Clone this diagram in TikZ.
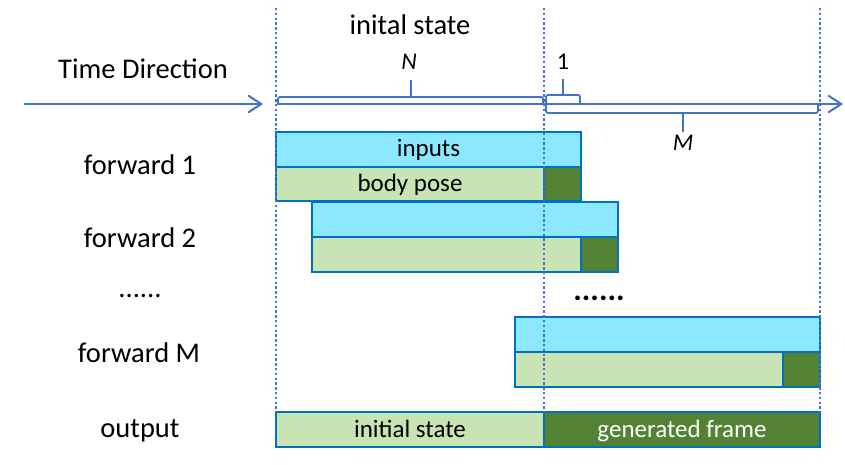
\documentclass[tikz,border=0pt]{standalone}
\usepackage{fontspec}
\setmainfont{Carlito}
\usetikzlibrary{arrows.meta}
\definecolor{axisblue}{HTML}{4472C4}
\definecolor{boxblue}{HTML}{0070C0}
\definecolor{inblue}{HTML}{8BE8FF}
\definecolor{lgreen}{HTML}{C9E4B4}
\definecolor{dgreen}{HTML}{548235}
\begin{document}
\begin{tikzpicture}[x=1pt,y=-1pt,
  cell/.style={draw=boxblue, line width=2.4pt, inner sep=0pt, outer sep=0pt, anchor=north west,
    text height=18pt, text depth=3pt, font=\fontsize{25}{29}\selectfont},
  lab/.style={font=\fontsize{28.5}{33}\selectfont, anchor=base, inner sep=0pt},
  smalllab/.style={font=\fontsize{24}{28}\selectfont, anchor=base, inner sep=0pt},
  guide/.style={draw=axisblue, line width=2.4pt, dash pattern=on 2.4pt off 2.4pt},
  axisline/.style={draw=axisblue, line width=2pt, -{Straight Barb[length=13pt,width=17pt,line width=2pt]}},
  bracket/.style={draw=axisblue, line width=1.8pt, rounded corners=2pt},
  ]
\useasboundingbox (0,0) rectangle (845,465);
\fill[white] (0,0) rectangle (845,465);

% forward 1
\node[cell, fill=inblue, minimum width=305pt, minimum height=35pt] (f1in) at (276,132) {inputs};
\node[cell, fill=lgreen, minimum width=268pt, minimum height=34pt] (f1bp) at (276,167) {body pose};
\node[cell, fill=dgreen, minimum width=37pt, minimum height=34pt] (f1g) at (544,167) {};
% forward 2
\node[cell, fill=inblue, minimum width=306pt, minimum height=35pt] (f2in) at (312,202) {};
\node[cell, fill=lgreen, minimum width=269pt, minimum height=35pt] (f2bp) at (312,237) {};
\node[cell, fill=dgreen, minimum width=37pt, minimum height=35pt] (f2g) at (581,237) {};
% forward M
\node[cell, fill=inblue, minimum width=305pt, minimum height=35pt] (fmin) at (515,317) {};
\node[cell, fill=lgreen, minimum width=268pt, minimum height=35pt] (fmbp) at (515,352) {};
\node[cell, fill=dgreen, minimum width=37pt, minimum height=35pt] (fmg) at (783,352) {};
% output
\node[cell, fill=lgreen, minimum width=268pt, minimum height=35pt] (outi) at (276,412) {initial state};
\node[cell, fill=dgreen, minimum width=276pt, minimum height=35pt, text=white] (outg) at (544,412) {generated frame};

% guides
\coordinate (g1t) at (276,8); \coordinate (g1b) at (276,412);
\coordinate (g2t) at (544,8); \coordinate (g2b) at (544,412);
\coordinate (g3t) at (820,8); \coordinate (g3b) at (820,412);
\draw[guide] (g1t) -- (g1b);
\draw[guide] (g2t) -- (g2b);
\draw[guide] (g3t) -- (g3b);

% time axis
\coordinate (a0) at (24,104); \coordinate (a1) at (263,104);
\coordinate (b0) at (278,104); \coordinate (b1) at (843,104);
\draw[axisline] (a0) -- (a1);
\draw[axisline] (b0) -- (b1);

% brackets
\draw[bracket] (278,105) -- (278,97) -- (543,97) -- (543,105);
\draw[bracket] (411,97) -- (411,80);
\draw[bracket] (546,104) -- (546,95) -- (580,95) -- (580,104);
\draw[bracket] (563,95) -- (563,79);
\draw[bracket] (546,104) -- (546,113) -- (818,113) -- (818,104);
\draw[bracket] (683,113) -- (683,132);

% labels
\node[lab] (td) at (143,79) {Time Direction};
\node[lab] (ist) at (410,35) {inital state};
\node[smalllab, font=\fontsize{24}{28}\selectfont\itshape] (nlab) at (409,70) {N};
\node[smalllab] (onelab) at (563,70) {1};
\node[smalllab, font=\fontsize{24}{28}\selectfont\itshape] (mlab) at (683,151) {M};
\node[lab] (fw1) at (140,175) {forward 1};
\node[lab] (fw2) at (140,247) {forward 2};
\node[lab] (dots) at (140,297) {......};
\node[lab] (fwm) at (139,362) {forward M};
\node[lab] (outl) at (140,437) {output};
\node[lab, font=\fontsize{32}{36}\selectfont\bfseries] (bdots) at (599,300) {......};
\end{tikzpicture}
\end{document}
